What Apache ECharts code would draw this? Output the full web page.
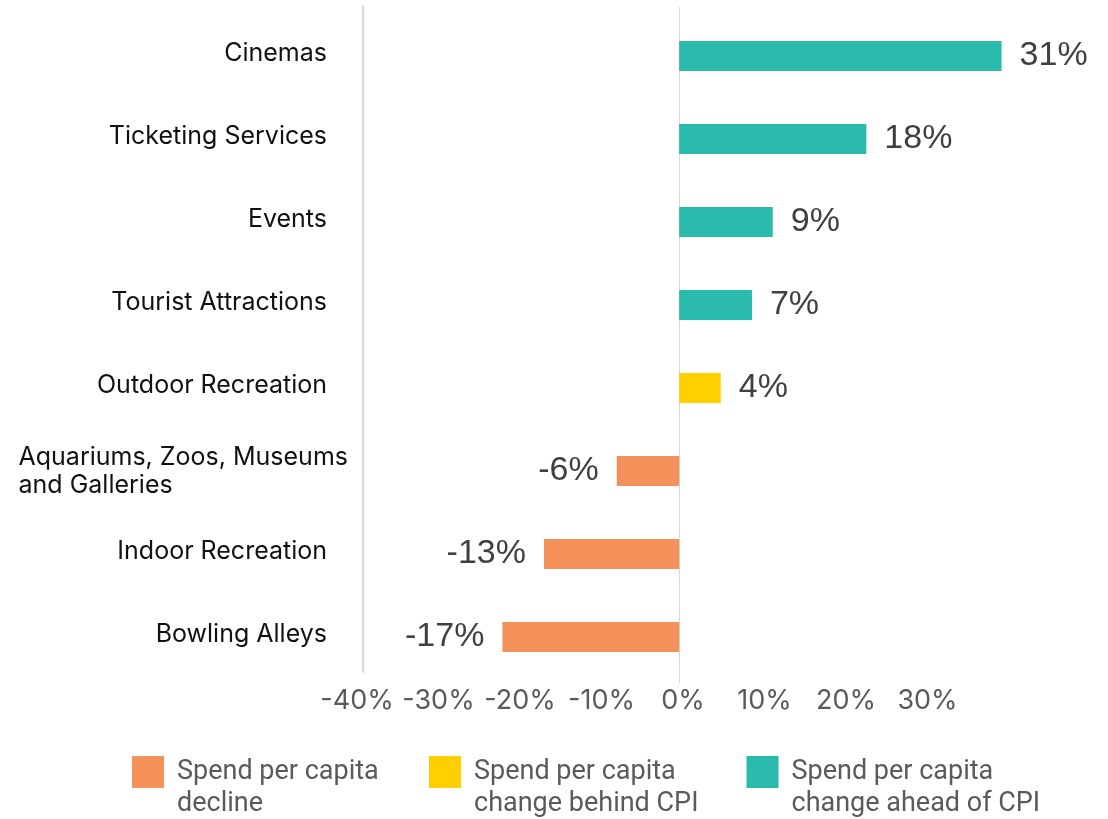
<!DOCTYPE html>
<html>
<head>
<meta charset="utf-8">
<script src="https://cdn.jsdelivr.net/npm/echarts@6/dist/echarts.min.js"></script>
<style>
  html, body { margin: 0; padding: 0; background: #fff; }
  #spendChart { width: 1108px; height: 819px; }
</style>
</head>
<body>
<div id="spendChart"></div>
<script>
// categories, top to bottom
const categories = [
  'Cinemas',
  'Ticketing Services',
  'Events',
  'Tourist Attractions',
  'Outdoor Recreation',
  'Aquariums, Zoos, Museums\nand Galleries',
  'Indoor Recreation',
  'Bowling Alleys'
];
// % change in spend per capita, split by colour group
const declineValues   = [null, null, null, null, null, -6, -13, -17];
const behindCpiValues = [null, null, null, null, 4, null, null, null];
const aheadCpiValues  = [31, 18, 9, 7, null, null, null, null];
// tick labels of the bottom axis
const tickValues = [-40, -30, -20, -10, 0, 10, 20, 30];

const seriesNames = [
  'Spend per capita\ndecline',
  'Spend per capita\nchange behind CPI',
  'Spend per capita\nchange ahead of CPI'
];
const colors = ['#F5925C', '#FFCF00', '#2BBBAD'];

const font = 'Inter, "Liberation Sans", sans-serif';
const numFont = '"Liberation Sans", Arial, sans-serif';
const legendFont = 'Roboto, "Liberation Sans", sans-serif';
const lineColor = '#d9d9d9';

// bar scale (px per 1%): zero sits at x=679
const pxPerPct = 10.4;
const barMin = -30.4;
const barMax = 35;

var myChart = echarts.init(document.getElementById('spendChart'));

function hiddenAxis(extra) {
  return Object.assign({
    show: true,
    axisLine: { show: false },
    axisTick: { show: false },
    axisLabel: { show: false },
    splitLine: { show: false }
  }, extra);
}

function barLabel(pos) {
  return {
    show: true,
    position: pos,
    distance: 18,
    formatter: '{c}%',
    fontFamily: numFont,
    fontSize: 34,
    color: '#404040'
  };
}

var option = {
  animation: false,
  grid: [
    // bars
    { left: 363, top: 14.5, height: 664, width: (barMax - barMin) * pxPerPct },
    // left frame line
    { left: 363, top: 6, height: 666, width: 100 },
    // zero line
    { left: 363, top: 7, height: 676, width: (0 - barMin) * 2 * pxPerPct },
    // tick labels
    { left: 357, top: 7, height: 676, width: 570.5 }
  ],
  xAxis: [
    hiddenAxis({ type: 'value', gridIndex: 0, min: barMin, max: barMax }),
    hiddenAxis({ type: 'value', gridIndex: 1, min: 0, max: 1 }),
    hiddenAxis({
      type: 'value', gridIndex: 2, min: barMin, max: -barMin, interval: -barMin,
      splitLine: { show: true, lineStyle: { color: ['rgba(0,0,0,0)', lineColor, 'rgba(0,0,0,0)'], width: 1 } }
    }),
    hiddenAxis({
      type: 'value', gridIndex: 3,
      min: tickValues[0], max: tickValues[tickValues.length - 1], interval: tickValues[1] - tickValues[0],
      axisLabel: {
        show: true, margin: 4, formatter: '{value}%',
        fontFamily: font, fontSize: 27, color: '#5a5a5a',
        showMinLabel: true, showMaxLabel: true
      }
    })
  ],
  yAxis: [
    hiddenAxis({
      type: 'category', gridIndex: 0, inverse: true, data: categories,
      axisLabel: {
        show: true, interval: 0, margin: 15,
        fontFamily: font, fontSize: 25, color: '#111',
        formatter: function (v) {
          if (v.indexOf('\n') >= 0) {
            return v.split('\n').map(function (s) { return '{a|' + s + '}'; }).join('\n');
          }
          return '{n|' + v + '}';
        },
        rich: {
          a: { align: 'left', fontFamily: font, fontSize: 25, color: '#111', lineHeight: 28 },
          n: { fontFamily: font, fontSize: 25, color: '#111', padding: [0, 21, 6, 0] }
        }
      }
    }),
    hiddenAxis({
      type: 'value', gridIndex: 1,
      axisLine: { show: true, onZero: false, lineStyle: { color: lineColor, width: 2 } }
    }),
    hiddenAxis({ type: 'value', gridIndex: 2 }),
    hiddenAxis({ type: 'value', gridIndex: 3 })
  ],
  legend: seriesNames.map(function (name, i) {
    return {
      data: [name],
      left: [132, 429, 746.5][i],
      top: 724,
      padding: 0,
      icon: 'rect',
      itemWidth: 32,
      itemHeight: 32,
      selectedMode: false,
      // blank first line pushes the two text lines down so the icon sits by the first one
      formatter: function (n) { return '\n' + n; },
      textStyle: {
        fontFamily: legendFont, fontSize: 27, color: '#5a5a5a',
        lineHeight: 32, padding: [0, 0, 0, 8]
      }
    };
  }),
  series: [
    { name: seriesNames[0], type: 'bar', stack: 'all', barWidth: 30, data: declineValues,
      itemStyle: { color: colors[0] }, label: barLabel('left') },
    { name: seriesNames[1], type: 'bar', stack: 'all', barWidth: 30, data: behindCpiValues,
      itemStyle: { color: colors[1] }, label: barLabel('right') },
    { name: seriesNames[2], type: 'bar', stack: 'all', barWidth: 30, data: aheadCpiValues,
      itemStyle: { color: colors[2] }, label: barLabel('right') }
  ]
};

myChart.setOption(option);
</script>
</body>
</html>
